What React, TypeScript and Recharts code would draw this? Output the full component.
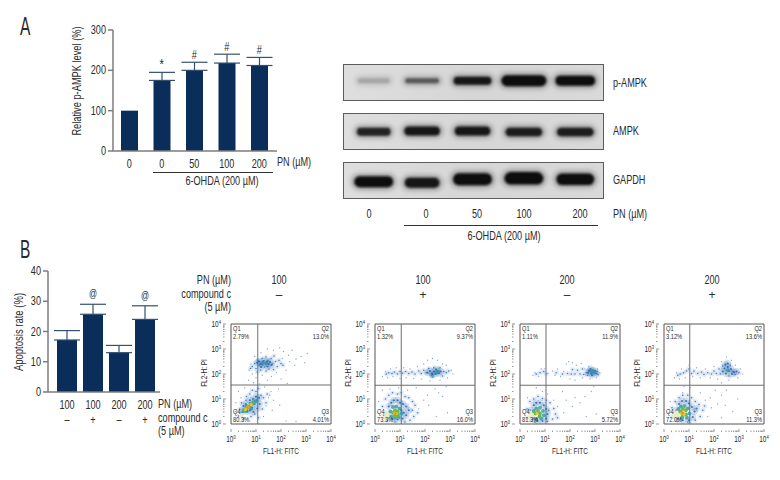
import React from 'react';
import { ComposedChart, Bar, Line, ErrorBar, LabelList, XAxis, YAxis, ScatterChart, Scatter, ReferenceLine } from 'recharts';

// panel A bars
const doseA = ['0', '0', '50', '100', '200'];
const pampkLevel = [100, 175, 200, 218, 212];
const pampkErr = [0, 20, 20, 22, 20];
const pampkMark = ['', '*', '#', '#', '#'];

// panel A blots, one entry per lane
const laneCenter = [0, 0.96, 1.96, 2.98, 4];
const pampkSignal = [0.42, 0.72, 0.97, 1, 1];
const pampkSpan = [0.62, 0.66, 0.74, 0.88, 0.78];
const pampkThick = [4.5, 5, 8, 11, 10];
const pampkMigration = [0.54, 0.54, 0.54, 0.54, 0.54];
const ampkSignal = [0.93, 0.97, 0.96, 0.95, 0.95];
const ampkSpan = [0.66, 0.7, 0.7, 0.72, 0.72];
const ampkThick = [8, 9, 9, 8.5, 8.5];
const ampkMigration = [0.48, 0.5, 0.5, 0.47, 0.47];
const gapdhSignal = [1, 0.98, 1, 1, 1];
const gapdhSpan = [0.76, 0.68, 0.76, 0.76, 0.74];
const gapdhThick = [11, 10, 12, 12.5, 11.5];
const gapdhMigration = [0.45, 0.42, 0.52, 0.55, 0.52];
const blotDose = ['0', '0', '50', '100', '200'];

// panel B bars
const doseB = ['100', '100', '200', '200'];
const compoundB = ['–', '+', '–', '+'];
const apoptosisRate = [17.2, 25.7, 13, 24];
const apoptosisErr = [3.1, 3.3, 2.4, 4.5];
const apoptosisMark = ['', '@', '', '@'];

// flow cytometry, points are log10 decades [FITC, PI]
const logTicks = [0, 0.3, 0.48, 0.6, 0.7, 0.78, 0.85, 0.9, 0.95, 1, 1.3, 1.48, 1.6, 1.7, 1.78, 1.85, 1.9, 1.95, 2, 2.3, 2.48, 2.6, 2.7, 2.78, 2.85, 2.9, 2.95, 3, 3.3, 3.48, 3.6, 3.7, 3.78, 3.85, 3.9, 3.95, 4];

const flow1Sparse = [[2.1, 2.9], [2.3, 2.75], [2.45, 2.95], [2.6, 2.6], [2.8, 2.7], [3.05, 2.82], [2.95, 2.45], [2.55, 2.35], [2.35, 2.5], [2.2, 2.15], [2.05, 2.62], [1.95, 3.05], [1.7, 2.95], [1.45, 3], [1.2, 2.85], [0.95, 2.7], [0.8, 2.4], [0.72, 2.15], [0.85, 2], [1, 1.85], [1.25, 1.95], [1.45, 1.75], [1.62, 1.9], [1.82, 2.05], [2, 1.8], [2.25, 1.62], [1.9, 1.4], [1.6, 1.3], [1.35, 1.48], [1.15, 1.6], [0.9, 1.65], [0.7, 1.75], [0.55, 1.45], [0.3, 1.3], [0.2, 0.85], [0.18, 0.5], [1.5, 1.05], [1.7, 0.95], [1.95, 0.75], [1.65, 0.55], [1.4, 0.72], [1.3, 0.3], [2.2, 0.12], [2.6, 0.1], [0.75, 0.12], [1.05, 0.1], [0.4, 1.05], [1.55, 1.15]];
const flow1Mid = [[0.85, 2.3], [0.95, 2.42], [1, 2.22], [1.08, 2.55], [1.12, 2.35], [1.18, 2.15], [1.25, 2.62], [1.3, 2.45], [1.35, 2.28], [1.4, 2.68], [1.48, 2.55], [1.52, 2.2], [1.6, 2.62], [1.66, 2.4], [1.72, 2.72], [1.78, 2.5], [1.85, 2.3], [1.92, 2.55], [2, 2.42], [2.08, 2.35], [0.78, 2.22], [1.05, 2.08], [1.4, 2.12], [1.7, 2.18], [0.6, 0.95], [0.75, 1.2], [0.85, 1.35], [1, 1.3], [1.1, 1.42], [1.2, 1.15], [1.3, 1.05], [1.4, 0.85], [1.25, 0.6], [0.95, 0.4], [0.8, 0.3], [0.5, 0.2], [0.35, 0.6], [0.42, 0.85], [1.1, 0.25], [1.45, 1.2], [0.3, 0.32], [0.62, 1.1]];
const flow1Dense = [[1.05, 2.45], [1.12, 2.5], [1.18, 2.4], [1.25, 2.38], [1.3, 2.52], [1.38, 2.42], [1.44, 2.5], [1.5, 2.4], [1.56, 2.48], [1.62, 2.36], [1.2, 2.28], [1.46, 2.3], [0.55, 0.6], [0.65, 0.5], [0.75, 0.55], [0.85, 0.65], [0.95, 0.8], [1.05, 0.95], [1.12, 1.05], [1, 1.1], [0.88, 1], [0.75, 0.95], [0.6, 0.8], [0.45, 0.48], [1.15, 0.8], [1.05, 0.62], [0.9, 0.48], [0.5, 0.72]];
const flow1Teal = [[1.25, 2.45], [1.42, 2.42], [0.5, 0.52], [0.62, 0.72], [0.78, 0.82], [0.9, 0.88], [1, 0.92], [0.8, 0.62], [0.62, 0.52]];
const flow1Green = [[0.52, 0.55], [0.6, 0.62], [0.68, 0.68], [0.78, 0.75], [0.86, 0.82]];
const flow1Yellow = [[0.58, 0.58], [0.65, 0.66], [0.72, 0.72], [0.8, 0.78]];
const flow1Orange = [[0.66, 0.66], [0.73, 0.72]];
const flow1Pale = [[0.42, 0.3]];

const flow2Sparse = [[0.3, 1.9], [0.42, 2.1], [0.5, 1.85], [0.62, 2.2], [0.72, 1.9], [0.85, 2.25], [1, 1.82], [1.15, 2.25], [1.25, 1.85], [1.4, 2.2], [1.55, 1.82], [1.7, 2.3], [1.85, 1.8], [1.95, 2.4], [2.1, 2.55], [2.3, 2.62], [2.5, 2.55], [2.7, 2.4], [2.85, 2.35], [3.05, 2.15], [3.12, 2], [2.9, 1.85], [2.6, 1.75], [2.2, 1.72], [2.4, 1.4], [2.55, 1.25], [2.7, 1.1], [2.1, 1.15], [2.85, 1.5], [1.95, 0.95], [2.15, 0.75], [1.75, 0.6], [2.45, 0.3], [2.9, 0.45], [0.15, 0.9], [0.3, 1.35], [0.6, 1.4], [0.95, 1.45], [1.3, 1.35], [1.65, 1.45]];
const flow2Mid = [[0.45, 2], [0.55, 2.05], [0.68, 2.02], [0.78, 2.08], [0.9, 2], [1, 2.1], [1.1, 2.03], [1.22, 2.1], [1.35, 2.02], [1.48, 2.08], [1.6, 2], [1.75, 2.12], [1.85, 2.02], [1.95, 2.15], [2.05, 2.05], [2.15, 2.22], [2.25, 1.95], [2.35, 2.25], [2.6, 2.25], [2.75, 2.1], [2.85, 2.05], [2.95, 2.12], [2.7, 1.92], [2.3, 1.88], [0.35, 0.35], [0.3, 0.7], [0.42, 1], [0.55, 1.15], [0.7, 1.25], [0.9, 1.2], [1.05, 1.25], [1.2, 1.1], [1.35, 1.05], [1.5, 0.9], [1.6, 0.75], [1.7, 0.45], [1.55, 0.3], [1.4, 0.15], [1.2, 0.08], [0.8, 0.08], [0.5, 0.15], [1.5, 0.55]];
const flow2Dense = [[2.1, 2.05], [2.2, 2.12], [2.28, 2.02], [2.36, 2.1], [2.42, 2], [2.5, 2.12], [2.56, 2.03], [2.62, 2.1], [2.45, 2.18], [2.3, 1.98], [0.55, 0.7], [0.65, 0.85], [0.75, 0.95], [0.9, 0.95], [1, 0.85], [1.12, 0.8], [1.25, 0.7], [1.35, 0.55], [1.25, 0.35], [1.1, 0.22], [0.9, 0.18], [0.7, 0.2], [0.5, 0.4], [1.05, 0.55], [1.15, 0.45]];
const flow2Teal = [[2.45, 2.06], [2.52, 2.08], [0.62, 0.5], [0.72, 0.68], [0.85, 0.7], [0.98, 0.62], [1.05, 0.42], [0.95, 0.28], [0.8, 0.25], [0.65, 0.3]];
const flow2Green = [[0.72, 0.45], [0.8, 0.55], [0.9, 0.5], [0.92, 0.36], [0.8, 0.34]];
const flow2Yellow = [[0.78, 0.44], [0.86, 0.42]];
const flow2Orange = [[0.82, 0.42]];
const flow2Pale = [[0.45, 0.42], [0.52, 0.32], [0.42, 0.25], [0.58, 0.44]];

const flow3Sparse = [[0.52, 1.95], [0.6, 2.05], [0.75, 1.9], [0.85, 2.2], [1, 2.22], [1.12, 2.02], [1.3, 2.12], [1.4, 1.95], [1.5, 2.2], [1.62, 1.9], [1.75, 2.1], [1.85, 2.4], [1.95, 2.5], [2.1, 2.45], [2.25, 2.35], [2.45, 2.42], [2.6, 2.2], [2.75, 2.3], [3.1, 2.2], [3.2, 2.05], [3.05, 1.85], [2.8, 1.8], [2.5, 1.85], [2.2, 1.75], [2, 1.8], [2.95, 1.5], [2.85, 1.3], [2.6, 1.1], [2.4, 0.85], [2.2, 1.05], [2.1, 0.7], [1.85, 0.95], [1.75, 0.45], [2.65, 0.3], [3.05, 0.4], [1.35, 0.95], [0.9, 1.3], [0.65, 1.45], [0.3, 1.05], [1.5, 0.7], [1.1, 1.2], [1.7, 1.3]];
const flow3Mid = [[0.65, 2], [0.8, 2.05], [0.95, 2.1], [1.05, 2], [1.45, 2.05], [1.7, 2], [1.9, 2.02], [2.05, 2], [2.1, 2.18], [2.2, 2], [2.3, 2.15], [2.4, 2], [2.5, 2.2], [2.55, 1.98], [2.65, 2.05], [2.75, 2.15], [3.08, 2.1], [3.12, 1.98], [2.7, 1.95], [0.3, 0.25], [0.28, 0.6], [0.4, 0.9], [0.55, 1], [0.72, 1.1], [0.9, 1.02], [1.05, 0.95], [1.2, 0.85], [1.35, 0.62], [1.42, 0.4], [1.3, 0.2], [1.1, 0.1], [0.6, 0.08], [1.5, 0.25], [1.15, 0.55]];
const flow3Dense = [[2.72, 2.05], [2.78, 2.12], [2.85, 2.02], [2.9, 2.15], [2.95, 2.05], [3, 2.12], [3.05, 2.02], [2.88, 1.95], [2.82, 2.2], [0.45, 0.55], [0.55, 0.75], [0.65, 0.85], [0.8, 0.85], [0.95, 0.75], [1.05, 0.6], [1.1, 0.4], [1.05, 0.22], [0.9, 0.12], [0.7, 0.12], [0.5, 0.2]];
const flow3Teal = [[2.88, 2.08], [2.94, 2.1], [0.55, 0.52], [0.65, 0.62], [0.8, 0.65], [0.92, 0.52], [0.95, 0.35], [0.85, 0.22], [0.65, 0.2]];
const flow3Green = [[0.62, 0.42], [0.72, 0.52], [0.8, 0.42], [0.78, 0.3]];
const flow3Yellow = [[0.68, 0.42]];
const flow3Orange: number[][] = [];
const flow3Pale = [[0.42, 0.42], [0.5, 0.32], [0.4, 0.25], [0.52, 0.5]];

const flow4Sparse = [[0.42, 1.85], [0.5, 2.05], [0.62, 1.8], [0.7, 2.2], [0.85, 1.85], [1, 2.35], [1.15, 1.9], [1.3, 2.25], [1.45, 1.85], [1.65, 2.2], [1.85, 1.85], [2, 2.3], [2.15, 1.8], [2.3, 2.5], [2.5, 2.68], [2.7, 2.55], [2.85, 2.35], [3.05, 2.2], [3.15, 2], [2.95, 1.85], [2.6, 1.75], [2.3, 1.65], [2.5, 1.35], [2.3, 1.15], [2.05, 1.35], [1.85, 1.05], [1.65, 0.95], [1.9, 0.65], [2.15, 0.8], [2.45, 0.75], [2.75, 0.5], [2.95, 1], [1.45, 1.25], [1.05, 1.45], [0.8, 1.5], [0.75, 1.25], [0.25, 0.9], [0.2, 0.45], [1.75, 0.3], [2.3, 0.25]];
const flow4Mid = [[0.55, 1.95], [0.65, 2], [0.78, 2.05], [0.9, 2.12], [1, 2.2], [1.1, 2.02], [1.2, 2.12], [1.35, 2.02], [1.5, 2.08], [1.6, 1.98], [1.75, 2.05], [1.9, 2], [2, 2.12], [2.1, 2.02], [2.2, 2.2], [2.25, 2], [2.35, 2.32], [2.65, 2.35], [2.75, 2.1], [2.85, 1.98], [3, 2.05], [2.6, 1.92], [0.35, 0.3], [0.32, 0.65], [0.45, 0.9], [0.6, 1.05], [0.75, 1.15], [0.95, 1.15], [1.1, 1.05], [1.25, 0.9], [1.4, 0.78], [1.55, 0.55], [1.45, 0.3], [1.25, 0.15], [0.95, 0.08], [0.55, 0.1], [1.62, 0.72]];
const flow4Dense = [[2.35, 2.1], [2.42, 2.22], [2.48, 2.02], [2.55, 2.28], [2.6, 2.12], [2.68, 2.2], [2.72, 2], [2.8, 2.08], [2.9, 2.1], [2.45, 2.38], [2.55, 2.42], [0.5, 0.55], [0.6, 0.8], [0.72, 0.92], [0.88, 0.92], [1, 0.82], [1.12, 0.68], [1.22, 0.5], [1.15, 0.28], [1, 0.15], [0.75, 0.15], [0.55, 0.22], [1.3, 0.62]];
const flow4Teal = [[2.55, 2.15], [0.58, 0.6], [0.68, 0.7], [0.82, 0.72], [0.95, 0.62], [1.02, 0.42], [0.92, 0.25], [0.72, 0.25]];
const flow4Green = [[0.65, 0.5], [0.75, 0.6], [0.87, 0.55], [0.88, 0.38], [0.75, 0.33]];
const flow4Yellow = [[0.68, 0.42], [0.78, 0.5], [0.8, 0.38]];
const flow4Orange = [[0.74, 0.44]];
const flow4Pale = [[0.42, 0.4], [0.5, 0.32], [0.4, 0.28], [0.55, 0.46]];

const flow1Pct = ['2.79%', '13.0%', '4.01%', '80.3%'];
const flow2Pct = ['1.32%', '9.37%', '16.0%', '73.3%'];
const flow3Pct = ['1.11%', '11.9%', '5.72%', '81.3%'];
const flow4Pct = ['3.12%', '13.6%', '11.3%', '72.0%'];
const flowDose = ['100', '100', '200', '200'];
const flowCompound = ['–', '+', '–', '+'];

const FONT = '"Liberation Sans", sans-serif';
const NARROW = 0.76; // no condensed face is installed, so squeeze the glyphs
const NAVY = '#0b2d5a';
const AXIS = '#7d7d7d';
const INK = '#2a2a2a';

const panelA = doseA.map((d, i) => ({ key: i, dose: d, level: pampkLevel[i], err: pampkErr[i] ? [0, pampkErr[i]] : undefined, top: pampkLevel[i] + pampkErr[i], mark: pampkMark[i] }));
const panelB = doseB.map((d, i) => ({ key: i, dose: d, comp: compoundB[i], rate: apoptosisRate[i], err: [0, apoptosisErr[i]], top: apoptosisRate[i] + apoptosisErr[i], mark: apoptosisMark[i] }));

const Txt = ({ x, y, size = 12, anchor = 'left', rotate = 0, sx = NARROW, color = INK, children }: any) => {
  const tx = anchor === 'center' ? '-50%' : anchor === 'right' ? '-100%' : '0';
  const ox = anchor === 'center' ? '50%' : anchor === 'right' ? '100%' : '0';
  return (
    <div style={{ position: 'absolute', left: x, top: y, fontFamily: FONT, fontSize: size, color, lineHeight: 1, whiteSpace: 'nowrap', transformOrigin: `${ox} 50%`, transform: `translate(${tx}, -50%) rotate(${rotate}deg) scaleX(${sx})` }}>
      {children}
    </div>
  );
};

const Rule = ({ x1, x2, y }: any) => <div style={{ position: 'absolute', left: x1, top: y, width: x2 - x1, height: 1, background: '#333' }} />;

// squeezed svg tick for the bar chart axes
const narrowTick = (fmt: (v: any) => string, anchor: string, dx: number, dy: number, size = 12) => ({ x, y, payload }: any) => (
  <text transform={`translate(${x + dx},${y + dy}) scale(${NARROW},1)`} textAnchor={anchor} fontFamily={FONT} fontSize={size} fill={INK}>
    {fmt(payload.value)}
  </text>
);

const NarrowMark = ({ x, y, value, size, lift }: any) => (
  value ? (
    <text transform={`translate(${x},${y - lift}) scale(${NARROW},1)`} textAnchor="middle" fontFamily={FONT} fontSize={value === '*' ? size + 3 : size} fill={INK}>
      {value}
    </text>
  ) : null
);

const BlotBand = ({ cx, cy, payload }: any) => {
  const w = payload.span * 51;
  const h = payload.thick;
  const g = Math.round(15 + (1 - payload.signal) * 260);
  return (
    <g>
      <rect x={cx - w / 2 - 3} y={cy - h / 2 - 2.5} width={w + 6} height={h + 5} rx={(h + 5) / 2} fill="#6a6a6a" opacity={0.6 * payload.signal} filter="url(#blotHalo)" />
      <rect x={cx - w / 2} y={cy - h / 2} width={w} height={h} rx={h / 2} fill={`rgb(${g},${g},${g})`} filter="url(#blotCore)" />
    </g>
  );
};

const BlotStrip = ({ top, signal, span, thick, migration, name }: any) => {
  const bands = laneCenter.map((lane, i) => ({ lane, pos: migration[i], signal: signal[i], span: span[i], thick: thick[i] }));
  return (
    <div style={{ position: 'absolute', left: 343, top, width: 261, height: 37, boxSizing: 'border-box', border: '1.5px solid #5c5c5c', background: 'linear-gradient(90deg,#dedede,#d6d6d6 50%,#d9d9d9)', overflow: 'hidden' }}>
      <ScatterChart width={258} height={34} margin={{ top: 0, right: 0, bottom: 0, left: 0 }}>
        <defs>
          <filter id="blotCore" x="-30%" y="-100%" width="160%" height="300%"><feGaussianBlur stdDeviation="1.2" /></filter>
          <filter id="blotHalo" x="-30%" y="-100%" width="160%" height="300%"><feGaussianBlur stdDeviation="2.8" /></filter>
        </defs>
        <XAxis type="number" dataKey="lane" domain={[-0.59, 4.53]} hide />
        <YAxis type="number" dataKey="pos" domain={[0, 1]} hide />
        <Scatter name={name} data={bands} shape={BlotBand} isAnimationActive={false} />
      </ScatterChart>
    </div>
  );
};

const FlowXTick = ({ x, y, payload }: any) => {
  const major = Number.isInteger(payload.value);
  return (
    <g>
      <line x1={x} x2={x} y1={y} y2={y - (major ? 3 : 1.5)} stroke="#555" strokeWidth={0.6} />
      {major && (
        <text transform={`translate(${x},${y + 10}) scale(${NARROW},1)`} textAnchor="middle" fontFamily={FONT} fontSize={8.5} fill={INK}>
          10<tspan dy={-3} fontSize={5.5}>{payload.value}</tspan>
        </text>
      )}
    </g>
  );
};

const FlowYTick = ({ x, y, payload }: any) => {
  const major = Number.isInteger(payload.value);
  return (
    <g>
      <line x1={x} x2={x + (major ? 3 : 1.5)} y1={y} y2={y} stroke="#555" strokeWidth={0.6} />
      {major && (
        <text transform={`translate(${x - 2},${y + 3}) scale(${NARROW},1)`} textAnchor="end" fontFamily={FONT} fontSize={8.5} fill={INK}>
          10<tspan dy={-3} fontSize={5.5}>{payload.value}</tspan>
        </text>
      )}
    </g>
  );
};

const toPts = (list: number[][]) => list.map(([x, y]) => ({ x, y }));
const dot = (r: number, fill: string, opacity = 1) => ({ cx, cy }: any) => <circle cx={cx} cy={cy} r={r} fill={fill} opacity={opacity} />;

const FlowPlot = ({ left, vx, hy, pct, sparse, mid, dense, teal, green, yellow, orange, pale }: any) => (
  <>
    <div style={{ position: 'absolute', left: left - 40, top: 318 }}>
      <ScatterChart width={160} height={130} margin={{ top: 6, right: 20, bottom: 4, left: 10 }}>
        <XAxis type="number" dataKey="x" domain={[0, 4]} ticks={logTicks} interval={0} height={20} tick={FlowXTick} tickLine={false} axisLine={{ stroke: '#555', strokeWidth: 1 }} allowDataOverflow />
        <YAxis type="number" dataKey="y" domain={[0, 4]} ticks={logTicks} interval={0} width={30} tick={FlowYTick} tickLine={false} axisLine={{ stroke: '#555', strokeWidth: 1 }} allowDataOverflow />
        <ReferenceLine x={4} stroke="#555" strokeWidth={1} />
        <ReferenceLine y={4} stroke="#555" strokeWidth={1} />
        {/* soft haze under the dots, the dense clouds read as a smear in the reference */}
        <Scatter data={toPts(mid)} shape={dot(2.6, '#7fa5d8', 0.2)} isAnimationActive={false} />
        <Scatter data={toPts(dense)} shape={dot(3.4, '#3d76bb', 0.22)} isAnimationActive={false} />
        <Scatter data={toPts(sparse)} shape={dot(0.65, '#86a6d8')} isAnimationActive={false} />
        <Scatter data={toPts(mid)} shape={dot(0.8, '#4a7cc0')} isAnimationActive={false} />
        <Scatter data={toPts(dense)} shape={dot(1.1, '#2a62ab', 0.85)} isAnimationActive={false} />
        <Scatter data={toPts(pale)} shape={dot(2.4, '#e6edc9')} isAnimationActive={false} />
        <Scatter data={toPts(teal)} shape={dot(2, '#2f97a0', 0.8)} isAnimationActive={false} />
        <Scatter data={toPts(green)} shape={dot(1.9, '#6bb84c')} isAnimationActive={false} />
        <Scatter data={toPts(yellow)} shape={dot(1.5, '#e7c935')} isAnimationActive={false} />
        <Scatter data={toPts(orange)} shape={dot(1.2, '#e58a2b')} isAnimationActive={false} />
        <ReferenceLine x={vx} stroke="#6f6f6f" strokeWidth={1} />
        <ReferenceLine y={hy} stroke="#6f6f6f" strokeWidth={1} />
      </ScatterChart>
    </div>
    <Txt x={left + 2} y={329} size={7.5}>Q1</Txt>
    <Txt x={left + 2} y={337} size={7.5}>{pct[0]}</Txt>
    <Txt x={left + 98} y={329} size={7.5} anchor="right">Q2</Txt>
    <Txt x={left + 98} y={337} size={7.5} anchor="right">{pct[1]}</Txt>
    <Txt x={left + 98} y={412} size={7.5} anchor="right">Q3</Txt>
    <Txt x={left + 98} y={420} size={7.5} anchor="right">{pct[2]}</Txt>
    <Txt x={left + 2} y={412} size={7.5}>Q4</Txt>
    <Txt x={left + 2} y={420} size={7.5}>{pct[3]}</Txt>
    <Txt x={left + 50} y={450.5} size={8.5} anchor="center">FL1-H: FITC</Txt>
    <Txt x={left - 27} y={373} size={8.5} anchor="center" rotate={-90}>FL2-H: PI</Txt>
  </>
);

export default function App() {
  return (
    <div style={{ position: 'absolute', left: 0, top: 0, width: 780, height: 480, background: '#fff', overflow: 'hidden' }}>
      <Txt x={20} y={26} size={25} sx={0.62}>A</Txt>
      <Txt x={20} y={249} size={25} sx={0.62}>B</Txt>

      <div style={{ position: 'absolute', left: 0, top: 0 }}>
        <ComposedChart width={320} height={200} data={panelA} margin={{ top: 30, right: 43, bottom: 24, left: 73 }}>
          <XAxis dataKey="key" height={25} axisLine={{ stroke: AXIS, strokeWidth: 1.5 }} tickLine={false} padding={{ left: 0, right: 1.5 }}
            tick={narrowTick((k) => doseA[k], 'middle', 0, 9)} tickMargin={2} />
          <YAxis domain={[0, 300]} ticks={[0, 100, 200, 300]} width={40} axisLine={{ stroke: AXIS, strokeWidth: 1.5 }} tickLine={{ stroke: AXIS, strokeWidth: 1.5 }} tickSize={5} tickMargin={2}
            tick={narrowTick((v) => String(v), 'end', 0, 4)} />
          <Bar dataKey="level" fill={NAVY} barSize={17} isAnimationActive={false}>
            <ErrorBar dataKey="err" width={13} stroke="#33506f" strokeWidth={1.2} direction="y" />
          </Bar>
          <Line dataKey="top" stroke="none" dot={false} legendType="none" isAnimationActive={false}>
            <LabelList dataKey="mark" content={(p: any) => <NarrowMark {...p} size={12} lift={3} />} />
          </Line>
        </ComposedChart>
      </div>
      <Txt x={77} y={81} size={12.2} anchor="center" rotate={-90}>Relative p-AMPK level (%)</Txt>
      <Txt x={277} y={162}>PN (µM)</Txt>
      <Rule x1={153} x2={273} y={172} />
      <Txt x={222} y={181} anchor="center">6-OHDA (200 µM)</Txt>

      <BlotStrip top={64} signal={pampkSignal} span={pampkSpan} thick={pampkThick} migration={pampkMigration} name="p-AMPK" />
      <BlotStrip top={113} signal={ampkSignal} span={ampkSpan} thick={ampkThick} migration={ampkMigration} name="AMPK" />
      <BlotStrip top={162} signal={gapdhSignal} span={gapdhSpan} thick={gapdhThick} migration={gapdhMigration} name="GAPDH" />
      <Txt x={613} y={83}>p-AMPK</Txt>
      <Txt x={613} y={131}>AMPK</Txt>
      <Txt x={613} y={180}>GAPDH</Txt>
      {blotDose.map((d, i) => (
        <Txt key={i} x={[369, 426, 477, 524, 580][i]} y={214} anchor="center">{d}</Txt>
      ))}
      <Txt x={613} y={214}>PN (µM)</Txt>
      <Rule x1={404} x2={598} y={225} />
      <Txt x={504} y={236} anchor="center">6-OHDA (200 µM)</Txt>

      <div style={{ position: 'absolute', left: 0, top: 250 }}>
        <ComposedChart width={200} height={190} data={panelB} margin={{ top: 21, right: 40, bottom: 21, left: 18 }}>
          <XAxis xAxisId={0} dataKey="key" height={14} axisLine={{ stroke: AXIS, strokeWidth: 1.5 }} tickLine={false} padding={{ left: 6, right: 2 }}
            tick={narrowTick((k) => doseB[k], 'middle', 0, 8.5)} tickMargin={2} />
          <XAxis xAxisId={1} dataKey="key" height={13} axisLine={false} tickLine={false} padding={{ left: 6, right: 2 }}
            tick={narrowTick((k) => compoundB[k], 'middle', 0, 11.5)} tickMargin={0} />
          <YAxis domain={[0, 40]} ticks={[0, 10, 20, 30, 40]} width={30} axisLine={{ stroke: AXIS, strokeWidth: 1.5 }} tickLine={{ stroke: AXIS, strokeWidth: 1.5 }} tickSize={5} tickMargin={2}
            tick={narrowTick((v) => String(v), 'end', 0, 4)} />
          <Bar dataKey="rate" fill={NAVY} barSize={20} isAnimationActive={false}>
            <ErrorBar dataKey="err" width={13} stroke="#33506f" strokeWidth={1.2} direction="y" />
          </Bar>
          <Line dataKey="top" stroke="none" dot={false} legendType="none" isAnimationActive={false}>
            <LabelList dataKey="mark" content={(p: any) => <NarrowMark {...p} size={10.5} lift={7} />} />
          </Line>
        </ComposedChart>
      </div>
      <Txt x={19} y={332} size={12.5} anchor="center" rotate={-90}>Apoptosis rate (%)</Txt>
      <Txt x={158} y={403.5}>PN (µM)</Txt>
      <Txt x={158} y={418}>compound c</Txt>
      <Txt x={158} y={431}>(5 µM)</Txt>

      <Txt x={231} y={280} anchor="right">PN (µM)</Txt>
      <Txt x={231} y={294} anchor="right">compound c</Txt>
      <Txt x={231} y={307} anchor="right">(5 µM)</Txt>
      {flowDose.map((d, i) => (
        <React.Fragment key={i}>
          <Txt x={[279, 423, 567, 712][i]} y={280} anchor="center">{d}</Txt>
          <Txt x={[279, 423, 567, 712][i]} y={295} anchor="center" sx={1}>{flowCompound[i]}</Txt>
        </React.Fragment>
      ))}

      <FlowPlot left={231} vx={1.07} hy={1.56} pct={flow1Pct} sparse={flow1Sparse} mid={flow1Mid} dense={flow1Dense} teal={flow1Teal} green={flow1Green} yellow={flow1Yellow} orange={flow1Orange} pale={flow1Pale} />
      <FlowPlot left={375} vx={1.05} hy={1.55} pct={flow2Pct} sparse={flow2Sparse} mid={flow2Mid} dense={flow2Dense} teal={flow2Teal} green={flow2Green} yellow={flow2Yellow} orange={flow2Orange} pale={flow2Pale} />
      <FlowPlot left={520} vx={1.04} hy={1.55} pct={flow3Pct} sparse={flow3Sparse} mid={flow3Mid} dense={flow3Dense} teal={flow3Teal} green={flow3Green} yellow={flow3Yellow} orange={flow3Orange} pale={flow3Pale} />
      <FlowPlot left={664} vx={1.03} hy={1.55} pct={flow4Pct} sparse={flow4Sparse} mid={flow4Mid} dense={flow4Dense} teal={flow4Teal} green={flow4Green} yellow={flow4Yellow} orange={flow4Orange} pale={flow4Pale} />
    </div>
  );
}
